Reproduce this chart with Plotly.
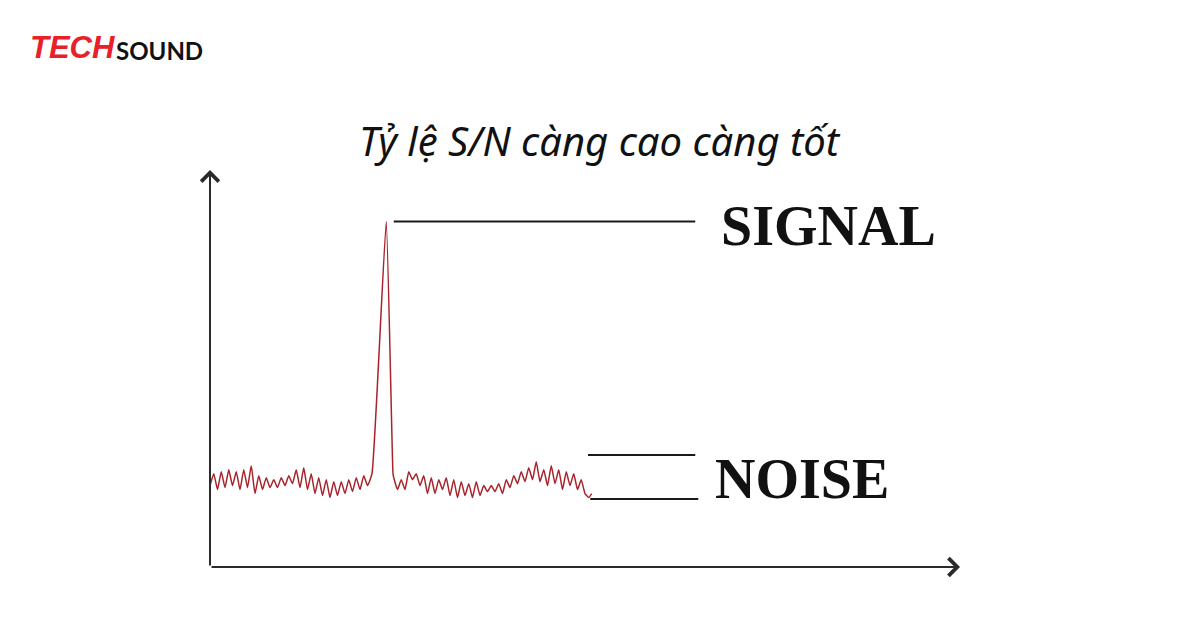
import plotly.graph_objects as go

# ---- data (time units 0..100, amplitude units 0..100) ----
noise_pre_x = [i * 0.5 for i in range(43)] + [21.6]
noise_pre_y = [20.5, 23.5, 19.5, 24, 20, 24.5, 20.5, 24, 19.5, 24.5, 20, 25.5, 18.5, 23, 19.5,
               22.5, 20, 22, 20, 22.5, 20.5, 23, 21, 24.5, 20, 25, 19.5, 23.5, 18.5, 22.5, 18,
               22, 17.5, 21.5, 18, 21.5, 18.5, 22, 19, 22.5, 19.5, 23, 20.5, 23.5]
peak_x = [23.5]
peak_y = [87]
noise_post_x = [24.4] + [24.5 + i * 0.5 for i in range(53)] + [50.9]
noise_post_y = [23.5, 22.5, 19.5, 22, 19.5, 24, 22, 23.5, 20.5, 23, 18.5, 22.5, 18.5, 22, 19.5,
                22.5, 18, 22, 17.5, 21.5, 18, 21, 17.5, 21.5, 18, 20.5, 19, 20.5, 19, 21, 18.5,
                22, 20, 23, 21, 24, 21.5, 25, 22, 26.5, 21.5, 24.5, 20.5, 25.5, 21, 24.5, 19.5,
                24, 20.5, 23.5, 19.5, 22, 18.5, 17.5, 18.5]

labels = ["SIGNAL", "NOISE"]
title_text = "Tỷ lệ S/N càng cao càng tốt"
logo_parts = ["TECH", "SOUND"]

x_all = noise_pre_x + peak_x + noise_post_x
y_all = noise_pre_y + peak_y + noise_post_y

W, H = 1200, 630
OFF = 8  # page body margin offset


def px(x):
    return (x - OFF) / W


def py(y):
    return 1 - (y - OFF) / H


fig = go.Figure()
fig.add_trace(go.Scatter(x=x_all, y=y_all, mode="lines",
                         line=dict(color="#a8242c", width=1.5, shape="spline", smoothing=0.4),
                         hoverinfo="skip", showlegend=False))

signal_level = max(y_all)
noise_top = 28.2
noise_bottom = 17.1
ink = "#1a1a1a"

fig.add_shape(type="line", x0=24.5, x1=64.7, y0=signal_level, y1=signal_level,
              xref="x", yref="y", line=dict(color=ink, width=2))
fig.add_shape(type="line", x0=50.4, x1=64.7, y0=noise_top, y1=noise_top,
              xref="x", yref="y", line=dict(color=ink, width=2))
fig.add_shape(type="line", x0=50.7, x1=65.1, y0=noise_bottom, y1=noise_bottom,
              xref="x", yref="y", line=dict(color=ink, width=2))

for (tx, ty) in [(0, 100), (100, 0)]:
    fig.add_annotation(x=tx, y=ty, ax=0, ay=0, xref="x", yref="y", axref="x", ayref="y",
                       showarrow=True, arrowhead=4, arrowwidth=2, arrowsize=1.7,
                       arrowcolor="#2a2a2a", text="")

fig.add_annotation(x=px(828), y=py(226), xref="paper", yref="paper", xanchor="center", yanchor="middle",
                   text="<b>%s</b>" % labels[0], showarrow=False,
                   font=dict(family="Liberation Serif", size=56, color="#111"))
fig.add_annotation(x=px(802), y=py(479), xref="paper", yref="paper", xanchor="center", yanchor="middle",
                   text="<b>%s</b>" % labels[1], showarrow=False,
                   font=dict(family="Liberation Serif", size=56, color="#111"))

fig.add_annotation(x=px(600), y=py(140), xref="paper", yref="paper", xanchor="center", yanchor="middle",
                   text="<i>%s</i>" % title_text, showarrow=False,
                   font=dict(family="Noto Sans", size=40, color="#111"))

fig.add_annotation(x=px(28), y=py(47), xref="paper", yref="paper", xanchor="left", yanchor="middle",
                   text="<b><i>%s</i></b>" % logo_parts[0], showarrow=False,
                   font=dict(family="Liberation Sans", size=31, color="#e8202a"))
fig.add_annotation(x=px(114), y=py(51), xref="paper", yref="paper", xanchor="left", yanchor="middle",
                   text="<b>%s</b>" % logo_parts[1], showarrow=False,
                   font=dict(family="Lato", size=24, color="#111"))

fig.update_layout(
    width=W, height=H,
    margin=dict(l=0, r=0, t=0, b=0),
    paper_bgcolor="white", plot_bgcolor="white",
    xaxis=dict(domain=[px(210), px(960)], range=[0, 100], visible=False, fixedrange=True),
    yaxis=dict(domain=[py(567), py(170)], range=[0, 100], visible=False, fixedrange=True),
)

fig.write_html("out.html")
